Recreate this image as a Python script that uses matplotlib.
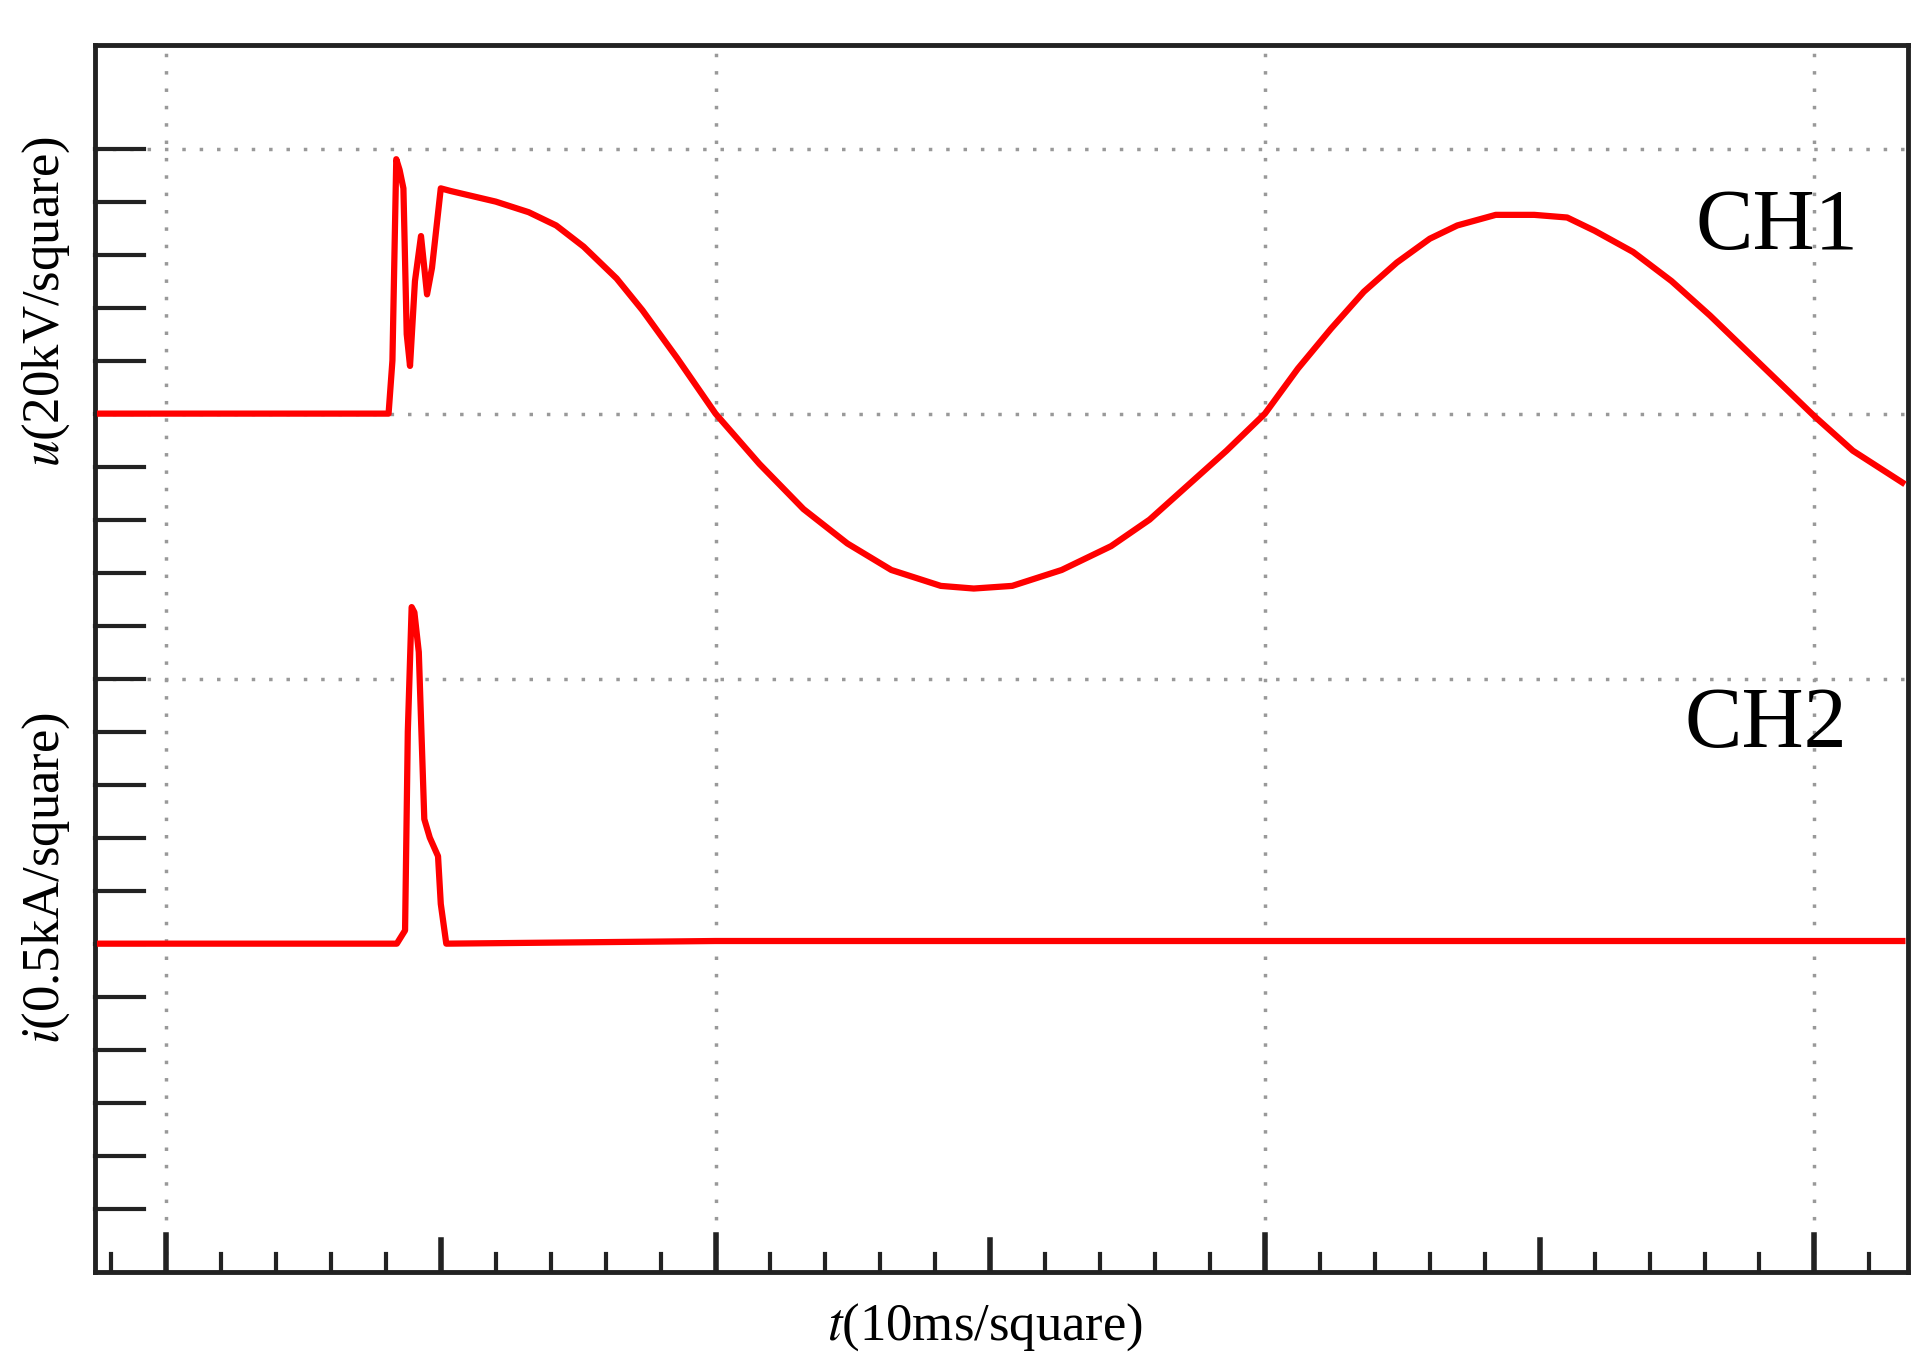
import matplotlib
matplotlib.use("Agg")
import matplotlib.pyplot as plt
import numpy as np

ch1_t = [-0.12, 0.405, 0.412, 0.419, 0.425, 0.432, 0.438, 0.444, 0.453, 0.464, 0.475, 0.484, 0.50, 0.518,
         0.60, 0.66, 0.71, 0.76, 0.82, 0.867, 0.93, 1.0, 1.08, 1.16, 1.24, 1.32, 1.41, 1.47, 1.54, 1.63,
         1.72, 1.79, 1.86, 1.93, 2.0, 2.06, 2.12, 2.18, 2.24, 2.30, 2.35, 2.42, 2.49, 2.55,
         2.60, 2.67, 2.74, 2.81, 2.89, 2.95, 3.0, 3.07, 3.16]
ch1_u = [2.00, 2.00, 2.2, 2.96, 2.92, 2.85, 2.3, 2.18, 2.5, 2.67, 2.45, 2.55, 2.85, 2.84,
         2.80, 2.76, 2.71, 2.63, 2.51, 2.39, 2.21, 2.0, 1.81, 1.64, 1.51, 1.41, 1.35, 1.34, 1.35, 1.41,
         1.50, 1.60, 1.73, 1.86, 2.0, 2.17, 2.32, 2.46, 2.57, 2.66, 2.71, 2.75, 2.75, 2.74,
         2.69, 2.61, 2.50, 2.37, 2.21, 2.09, 1.99, 1.86, 1.74]
ch2_t = [-0.12, 0.42, 0.435, 0.44, 0.447, 0.452, 0.46, 0.47, 0.48, 0.495, 0.50, 0.51, 1.0, 2.0, 3.16]
ch2_i = [0.0, 0.0, 0.05, 0.8, 1.27, 1.25, 1.1, 0.47, 0.40, 0.33, 0.15, 0.0, 0.01, 0.01, 0.01]

fig = plt.figure(figsize=(19.31, 13.71), dpi=100)
ax = fig.add_axes([0.049, 0.072, 0.939, 0.895])
ax.set_xlim(-0.13, 3.17)
ax.set_ylim(-1.24, 3.39)

for gx in [0, 1, 2, 3]:
    ax.axvline(gx, color='#999999', ls=(0, (1, 4)), lw=2.5, zorder=1)
for gy in [1, 2, 3]:
    ax.axhline(gy, color='#999999', ls=(0, (1, 4)), lw=2.5, zorder=1)

ax.plot(ch1_t, ch1_u, color='#ff0000', lw=4.5, zorder=3)
ax.plot(ch2_t, ch2_i, color='#ff0000', lw=4.5, zorder=3)

for yv in np.arange(-1.0, 3.01, 0.2):
    ax.plot([-0.13, -0.04], [yv, yv], color='#222222', lw=3, zorder=2, clip_on=False)
for k in range(-1, 32):
    xv = k * 0.1
    if k % 10 == 0:
        h = 0.14
    elif k % 5 == 0:
        h = 0.12
    else:
        h = 0.07
    ax.plot([xv, xv], [-1.24, -1.24 + h], color='#222222', lw=4 if k % 5 == 0 else 3, zorder=2)

ax.set_xticks([]); ax.set_yticks([])
for s in ax.spines.values():
    s.set_linewidth(3.5); s.set_color('#222222')

ax.text(3.08, 2.7, 'CH1', fontsize=62, family='Liberation Serif', ha='right', va='center')
ax.text(3.06, 0.82, 'CH2', fontsize=62, family='Liberation Serif', ha='right', va='center')

fig.text(0.51, 0.032, r'$t$(10ms/square)', fontsize=38, family='Liberation Serif', ha='center', va='center',
         math_fontfamily='stix')
fig.text(0.024, 0.78, r'$u$(20kV/square)', fontsize=38, family='Liberation Serif', ha='center', va='center',
         rotation=90, math_fontfamily='stix')
fig.text(0.024, 0.36, r'$i$(0.5kA/square)', fontsize=38, family='Liberation Serif', ha='center', va='center',
         rotation=90, math_fontfamily='stix')

fig.savefig('out.png', dpi=100)
